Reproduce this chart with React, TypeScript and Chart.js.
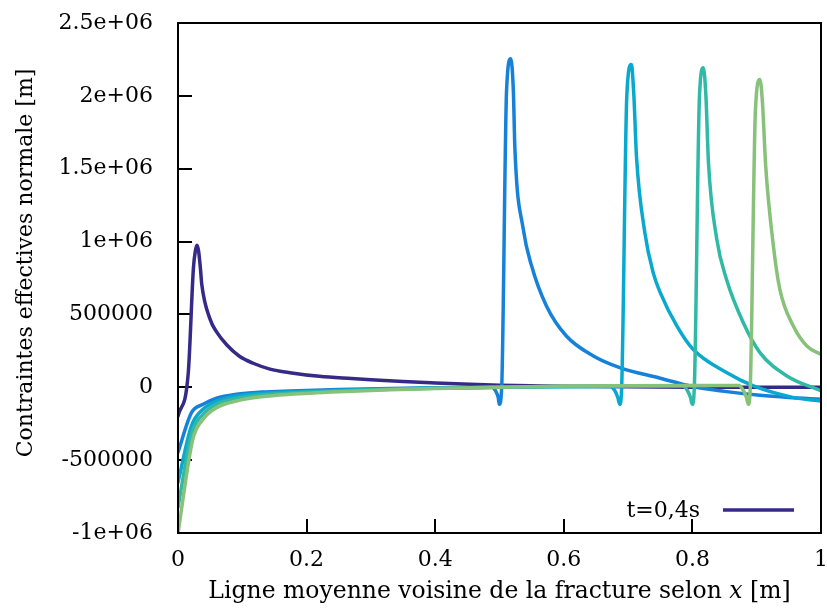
import React, { useEffect, useRef } from 'react';
import { Chart, registerables } from 'chart.js';

Chart.register(...registerables);

const FONT = '"DejaVu Serif", "Liberation Serif", serif';

const xTickLabels = ['0', '0.2', '0.4', '0.6', '0.8', '1'];
const yTickLabels = ['-1e+06', '-500000', '0', '500000', '1e+06', '1.5e+06', '2e+06', '2.5e+06'];
const legendLabel = 't=0,4s';
const xTitleParts = ['Ligne moyenne voisine de la fracture selon ', 'x', ' [m]'];
const yTitle = 'Contraintes effectives normale [m]';

const seriesColors = ['#352a87', '#1681d9', '#09a9cf', '#30b9a5', '#88c17a'];

// Series 1 (t=0,4s)
const xA = [0, 0.016, 0.024, 0.027, 0.0295, 0.032, 0.035, 0.037, 0.05, 0.06, 0.076, 0.095, 0.117, 0.143, 0.174, 0.22, 0.27, 0.3, 0.35, 0.4, 0.454, 0.5, 0.6, 0.7, 0.8, 0.9, 1];
const yA = [-197000, 101000, 820000, 935000, 975000, 935000, 809000, 706000, 466000, 380000, 290000, 215000, 165000, 125000, 100000, 75000, 60000, 52000, 40000, 30000, 20000, 14000, 7000, 3000, 1000, 0, 0];

// Series 2
const xB = [0, 0.021, 0.039, 0.06, 0.091, 0.13, 0.174, 0.25, 0.33, 0.4, 0.46, 0.488, 0.494, 0.498, 0.4997, 0.5034, 0.511, 0.5175, 0.5215, 0.524, 0.537, 0.55, 0.573, 0.604, 0.646, 0.687, 0.75, 0.8, 0.85, 0.905, 0.95, 1];
const yB = [-446000, -174000, -117000, -75000, -48000, -33000, -25000, -15000, -8000, -4000, -1000, 0, -25000, -70000, -117000, 0, 2040000, 2254000, 2040000, 1632000, 1084000, 832000, 558000, 352000, 215000, 135000, 62000, 5000, -28000, -55000, -70000, -82000];

// Series 3
const xC = [0, 0.021, 0.039, 0.06, 0.091, 0.13, 0.174, 0.25, 0.33, 0.4, 0.5, 0.6, 0.672, 0.679, 0.684, 0.687, 0.69, 0.698, 0.705, 0.709, 0.713, 0.726, 0.739, 0.75, 0.776, 0.801, 0.853, 0.895, 0.956, 1];
const yC = [-652000, -265000, -150000, -95000, -60000, -42000, -32000, -20000, -11000, -5000, 1000, 4000, 5000, -20000, -70000, -117000, 0, 2000000, 2215000, 2000000, 1587000, 1063000, 787000, 650000, 420000, 261000, 101000, 9000, -69000, -94000];

// Series 4
const xD = [0, 0.021, 0.039, 0.06, 0.091, 0.13, 0.174, 0.25, 0.33, 0.4, 0.5, 0.6, 0.7, 0.785, 0.792, 0.797, 0.7998, 0.803, 0.811, 0.817, 0.821, 0.825, 0.838, 0.853, 0.879, 0.905, 0.947, 1];
const yD = [-823000, -320000, -185000, -115000, -75000, -52000, -40000, -25000, -14000, -7000, 1000, 6000, 8000, 8000, -20000, -70000, -117000, 0, 2000000, 2193000, 2000000, 1541000, 1015000, 741000, 444000, 238000, 78000, -25000];

// Series 5
const xE = [0, 0.023, 0.039, 0.06, 0.091, 0.13, 0.174, 0.25, 0.33, 0.4, 0.5, 0.6, 0.7, 0.8, 0.872, 0.879, 0.884, 0.887, 0.89, 0.898, 0.905, 0.909, 0.914, 0.926, 0.936, 0.957, 0.978, 1];
const yE = [-1000000, -357000, -219000, -140000, -94000, -65000, -48000, -30000, -17000, -9000, 1000, 8000, 11000, 12000, 12000, -20000, -70000, -117000, 0, 1900000, 2113000, 1950000, 1518000, 969000, 672000, 420000, 283000, 226000];

const seriesX = [xA, xB, xC, xD, xE];
const seriesY = [yA, yB, yC, yD, yE];

const framePlugin = {
  id: 'gnuplotFrame',
  afterDraw(chart: any) {
    const { ctx, chartArea } = chart;
    const { left, right, top, bottom } = chartArea;
    ctx.save();
    // frame
    ctx.strokeStyle = '#000';
    ctx.lineWidth = 2;
    ctx.strokeRect(left, top, right - left, bottom - top);

    // legend
    ctx.font = `22px ${FONT}`;
    ctx.fillStyle = '#000';
    ctx.textAlign = 'right';
    ctx.textBaseline = 'middle';
    ctx.fillText(legendLabel, right - 121, bottom - 22);
    ctx.strokeStyle = seriesColors[0];
    ctx.lineWidth = 3.5;
    ctx.beginPath();
    ctx.moveTo(right - 98, bottom - 23);
    ctx.lineTo(right - 27, bottom - 23);
    ctx.stroke();

    // x title with italic x
    ctx.fillStyle = '#000';
    ctx.textBaseline = 'middle';
    ctx.textAlign = 'left';
    const normalX = `23.5px ${FONT}`;
    const italicX = `italic 23.5px ${FONT}`;
    ctx.font = normalX;
    const w0 = ctx.measureText(xTitleParts[0]).width;
    const w2 = ctx.measureText(xTitleParts[2]).width;
    ctx.font = italicX;
    const w1 = ctx.measureText(xTitleParts[1]).width;
    const total = w0 + w1 + w2;
    let cx = (left + right) / 2 - total / 2;
    const ty = 592;
    ctx.font = normalX;
    ctx.fillText(xTitleParts[0], cx, ty);
    cx += w0;
    ctx.font = italicX;
    ctx.fillText(xTitleParts[1], cx, ty);
    cx += w1;
    ctx.font = normalX;
    ctx.fillText(xTitleParts[2], cx, ty);

    // y title
    ctx.translate(26, 263);
    ctx.rotate(-Math.PI / 2);
    ctx.textAlign = 'center';
    ctx.font = `22px ${FONT}`;
    ctx.fillText(yTitle, 0, 0);
    ctx.restore();
  },
};

export default function App() {
  const ref = useRef<HTMLCanvasElement | null>(null);

  useEffect(() => {
    if (!ref.current) return;
    const datasets = seriesX.map((xs, s) => ({
      label: s === 0 ? legendLabel : `serie ${s + 1}`,
      data: xs.map((x, i) => ({ x, y: seriesY[s][i] })),
      borderColor: seriesColors[s],
      backgroundColor: seriesColors[s],
      borderWidth: 3.5,
      pointRadius: 0,
      cubicInterpolationMode: 'monotone' as const,
      fill: false,
      borderJoinStyle: 'round' as const,
      borderCapStyle: 'round' as const,
      order: 4 - s,
    }));

    const chart = new Chart(ref.current, {
      type: 'line',
      data: { datasets },
      options: {
        animation: false,
        responsive: false,
        devicePixelRatio: 1,
        layout: { padding: { left: 0, right: 6, top: 23, bottom: 0 } },
        plugins: {
          legend: { display: false },
          tooltip: { enabled: false },
        },
        scales: {
          x: {
            type: 'linear',
            min: 0,
            max: 1,
            ticks: {
              stepSize: 0.2,
              color: '#000',
              font: { family: FONT, size: 22 },
              padding: 28,
              maxRotation: 0,
              callback: (_v: any, i: number) => xTickLabels[i],
            },
            grid: {
              drawOnChartArea: false,
              drawTicks: true,
              tickLength: -14,
              color: '#000',
              lineWidth: 2,
            },
            border: { display: false },
            afterFit: (s: any) => {
              s.height = 77;
              s.paddingLeft = 0;
              s.paddingRight = 0;
            },
          },
          y: {
            type: 'linear',
            min: -1000000,
            max: 2500000,
            ticks: {
              stepSize: 500000,
              color: '#000',
              font: { family: FONT, size: 22 },
              padding: 39,
              callback: (_v: any, i: number) => yTickLabels[i],
            },
            grid: {
              drawOnChartArea: false,
              drawTicks: true,
              tickLength: -14,
              color: '#000',
              lineWidth: 2,
            },
            border: { display: false },
            afterFit: (s: any) => {
              s.width = 178;
              s.paddingTop = 0;
              s.paddingBottom = 0;
            },
          },
        },
      },
      plugins: [framePlugin],
    });
    return () => chart.destroy();
  }, []);

  return (
    <div style={{ position: 'absolute', left: 0, top: 0, width: 827, height: 610, background: '#fff' }}>
      <canvas ref={ref} width={827} height={610} style={{ width: 827, height: 610, display: 'block' }} />
    </div>
  );
}
